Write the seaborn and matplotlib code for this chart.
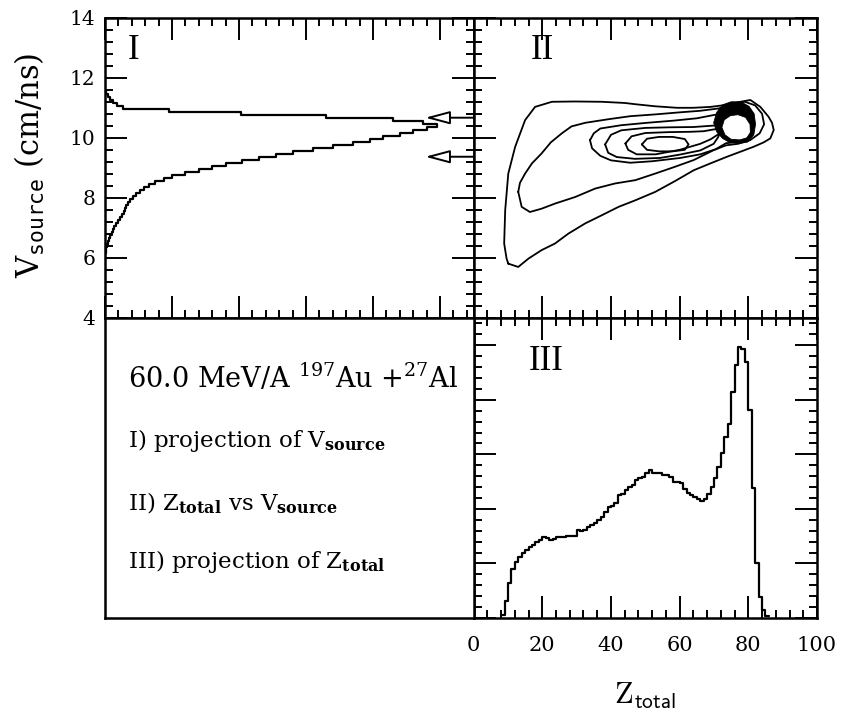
import numpy as np
import pandas as pd
import matplotlib
matplotlib.use("Agg")
import matplotlib.pyplot as plt
from matplotlib.path import Path
from matplotlib.patches import PathPatch
from matplotlib.ticker import MultipleLocator, NullFormatter
import seaborn as sns

# ---------------- data ----------------
# I) projection of V_source: bin centres (cm/ns) and counts (arb. units)
v_centers = [6.0, 6.1, 6.2, 6.3, 6.4, 6.5, 6.6, 6.7, 6.8, 6.9,
             7.0, 7.1, 7.2, 7.3, 7.4, 7.5, 7.6, 7.7, 7.8, 7.9,
             8.0, 8.1, 8.2, 8.3, 8.4, 8.5, 8.6, 8.7, 8.8, 8.9,
             9.0, 9.1, 9.2, 9.3, 9.4, 9.5, 9.6, 9.7, 9.8, 9.9,
             10.0, 10.1, 10.2, 10.3, 10.4, 10.5, 10.6, 10.7, 10.8, 10.9,
             11.0, 11.1, 11.2, 11.3, 11.4, 11.5]
v_counts = [0.0, 0.0, 0.01, 0.02, 0.035, 0.05, 0.06, 0.08, 0.10, 0.12,
            0.14, 0.17, 0.20, 0.23, 0.25, 0.28, 0.30, 0.32, 0.35, 0.38,
            0.42, 0.46, 0.52, 0.58, 0.66, 0.75, 0.88, 1.00, 1.20, 1.40,
            1.60, 1.80, 2.05, 2.30, 2.55, 2.80, 3.10, 3.40, 3.70, 3.95,
            4.15, 4.40, 4.60, 4.80, 4.95, 4.75, 4.30, 3.30, 2.03, 0.96,
            0.27, 0.18, 0.12, 0.08, 0.05, 0.02]
v_bin_width = 0.1

# markers on the V_source projection (cm/ns)
arrow_v = [10.67, 9.37]
arrow_tip = 4.78

# III) projection of Z_total: bin centres and counts (arb. units)
z_centers = [8.5, 9.5, 10.5, 11.5, 12.5, 13.5, 14.5, 15.5, 16.5, 17.5,
             18.5, 19.5, 20.5, 21.5, 22.5, 23.5, 24.5, 25.5, 26.5, 27.5,
             28.5, 29.5, 30.5, 31.5, 32.5, 33.5, 34.5, 35.5, 36.5, 37.5,
             38.5, 39.5, 40.5, 41.5, 42.5, 43.5, 44.5, 45.5, 46.5, 47.5,
             48.5, 49.5, 50.5, 51.5, 52.5, 53.5, 54.5, 55.5, 56.5, 57.5,
             58.5, 59.5, 60.5, 61.5, 62.5, 63.5, 64.5, 65.5, 66.5, 67.5,
             68.5, 69.5, 70.5, 71.5, 72.5, 73.5, 74.5, 75.5, 76.5, 77.5,
             78.5, 79.5, 80.5, 81.5, 82.5, 83.5, 84.5, 85.5]
z_counts = [0.05, 0.32, 0.65, 0.89, 1.03, 1.12, 1.20, 1.25, 1.30, 1.34,
            1.40, 1.43, 1.48, 1.46, 1.43, 1.45, 1.48, 1.48, 1.49, 1.50,
            1.50, 1.50, 1.61, 1.59, 1.62, 1.67, 1.70, 1.75, 1.79, 1.86,
            1.94, 2.04, 2.05, 2.10, 2.25, 2.28, 2.34, 2.40, 2.44, 2.53,
            2.56, 2.59, 2.65, 2.72, 2.66, 2.66, 2.66, 2.62, 2.62, 2.59,
            2.50, 2.50, 2.47, 2.36, 2.30, 2.25, 2.22, 2.18, 2.15, 2.19,
            2.28, 2.40, 2.56, 2.77, 3.02, 3.32, 3.55, 4.14, 4.63, 4.97,
            4.94, 4.69, 3.81, 2.38, 1.00, 0.39, 0.15, 0.03]
z_bin_width = 1.0

# II) Z_total vs V_source: iso-count contour lines (Z, V)
c1_z = [10.1, 13.0, 16.0, 19.8, 23.7, 27.6, 32.5, 37.3, 42.2, 47.1,
        52.9, 58.5, 64.1, 69.0, 73.8, 78.0, 81.5, 84.5, 86.4, 87.4,
        86.9, 85.9, 83.5, 80.6, 77.7, 73.8, 69.0, 64.0, 59.2, 52.9,
        47.0, 44.1, 37.3, 29.6, 22.8, 17.9, 15.0, 12.1, 10.1, 9.2,
        8.9, 9.6, 10.1]
c1_v = [5.81, 5.70, 5.98, 6.26, 6.48, 6.81, 7.15, 7.42, 7.70, 7.92,
        8.20, 8.55, 8.92, 9.15, 9.37, 9.55, 9.70, 9.85, 9.98, 10.26,
        10.50, 10.70, 11.03, 11.26, 11.20, 11.10, 11.03, 11.00, 11.00, 11.05,
        11.12, 11.16, 11.20, 11.21, 11.20, 11.03, 10.59, 9.70, 8.81, 7.59,
        6.48, 5.98, 5.81]

c2_z = [13.0, 14.0, 16.4, 19.8, 23.7, 29.6, 35.4, 41.2, 47.1, 52.9,
        58.5, 64.1, 69.9, 73.5, 77.0, 80.5, 83.3, 84.6, 84.0, 82.0,
        79.0, 75.5, 71.5, 66.0, 60.2, 52.9, 45.6, 39.3, 32.5, 28.5,
        25.7, 22.5, 19.8, 17.0, 15.0, 13.5, 13.0]
c2_v = [8.20, 7.70, 7.53, 7.64, 7.81, 8.03, 8.31, 8.48, 8.59, 8.81,
        9.03, 9.26, 9.59, 9.75, 9.80, 9.92, 10.15, 10.45, 10.80, 11.08,
        11.20, 11.15, 10.98, 10.90, 10.85, 10.78, 10.72, 10.62, 10.50, 10.38,
        10.15, 9.85, 9.48, 9.15, 8.81, 8.50, 8.20]

c3_z = [33.9, 35.0, 36.9, 43.0, 50.5, 58.0, 65.0, 71.8, 74.5, 77.5,
        80.3, 81.3, 80.8, 78.5, 76.0, 73.5, 70.5, 66.0, 60.2, 52.0,
        45.6, 40.0, 36.9, 34.5, 33.9]
c3_v = [9.92, 10.15, 10.31, 10.42, 10.50, 10.57, 10.65, 10.80, 10.97, 11.02,
        10.90, 10.45, 10.08, 9.88, 9.85, 9.82, 9.62, 9.45, 9.33, 9.22,
        9.17, 9.25, 9.40, 9.65, 9.92]

c4_z = [38.3, 40.0, 43.0, 50.0, 57.0, 64.1, 69.0, 71.8, 71.9, 71.2,
        69.9, 66.0, 60.0, 54.3, 47.0, 41.7, 39.2, 38.3]
c4_v = [9.78, 10.10, 10.25, 10.33, 10.35, 10.36, 10.40, 10.42, 10.20, 10.02,
        9.80, 9.58, 9.44, 9.33, 9.30, 9.36, 9.50, 9.78]

c5_z = [44.2, 46.0, 50.0, 57.0, 63.0, 67.0, 70.0, 71.6, 71.3, 69.0,
        66.0, 60.0, 53.0, 47.5, 45.0, 44.2]
c5_v = [9.81, 10.05, 10.16, 10.19, 10.20, 10.22, 10.28, 10.30, 10.12, 9.95,
        9.80, 9.60, 9.45, 9.45, 9.60, 9.81]

c6_z = [49.0, 50.5, 54.0, 58.0, 61.5, 62.6, 61.5, 58.0, 54.0, 50.5, 49.0]
c6_v = [9.78, 9.97, 10.03, 10.03, 9.96, 9.78, 9.60, 9.55, 9.55, 9.60, 9.78]

# densely packed contours around the projectile-like peak
ring_out_z = [69.9, 70.8, 72.5, 75.0, 77.8, 80.2, 81.7, 82.1, 81.6, 79.8,
              77.0, 74.5, 72.5, 70.8, 69.9]
ring_out_v = [10.50, 10.85, 11.10, 11.20, 11.20, 11.05, 10.80, 10.45, 10.10, 9.86,
              9.81, 9.85, 9.98, 10.20, 10.50]
ring_in_z = [72.3, 73.0, 74.8, 77.0, 79.2, 80.5, 80.6, 79.6, 77.5, 75.0, 73.2, 72.3]
ring_in_v = [10.35, 10.60, 10.74, 10.77, 10.68, 10.45, 10.18, 10.00, 9.93, 9.95, 10.10, 10.35]

v_ticks = [4, 6, 8, 10, 12, 14]
z_ticks = [0, 20, 40, 60, 80, 100]

# ---------------- figure ----------------
sns.set_theme(style="ticks")
ink = "black"
plt.rcParams.update({
    "font.family": ["DejaVu Serif"],
    "mathtext.fontset": "dejavuserif",
    "text.color": ink,
    "axes.labelcolor": ink,
    "xtick.color": ink,
    "ytick.color": ink,
})

fig = plt.figure(figsize=(8.45, 7.13), dpi=100)
W, H = 845.0, 713.0
xl, xm, xr = 105 / W, 473.6 / W, 817 / W
yt, ym, yb = 1 - 17.7 / H, 1 - 318 / H, 1 - 618 / H
ax1 = fig.add_axes([xl, ym, xm - xl, yt - ym])
ax2 = fig.add_axes([xm, ym, xr - xm, yt - ym])
ax3 = fig.add_axes([xm, yb, xr - xm, ym - yb])
ax4 = fig.add_axes([xl, yb, xm - xl, ym - yb])

# Panel I: V_source projection drawn sideways
v_df = pd.DataFrame({"v": v_centers, "n": v_counts})
v_edges = [round(c - v_bin_width / 2, 3) for c in v_centers] + [round(v_centers[-1] + v_bin_width / 2, 3)]
sns.histplot(data=v_df, y="v", weights="n", bins=v_edges, element="step",
             fill=False, color=ink, linewidth=1.6, ax=ax1)
for v in arrow_v:
    ax1.annotate("", xy=(arrow_tip, v), xytext=(5.5, v),
                 arrowprops=dict(arrowstyle="-|>,head_length=0.75,head_width=0.2",
                                 mutation_scale=20, fc="white", ec=ink, lw=1.4,
                                 shrinkA=0, shrinkB=0), annotation_clip=False)
ax1.set_xlim(0, 5.5)
ax1.set_ylim(4, 14)
ax1.text(0.42, 12.9, "I", family="Liberation Serif", fontsize=25, ha="center", va="center")

# Panel II: contour lines of the 2D distribution
for cz, cv in [(c1_z, c1_v), (c2_z, c2_v), (c3_z, c3_v), (c4_z, c4_v), (c5_z, c5_v), (c6_z, c6_v)]:
    ax2.plot(cz, cv, color=ink, lw=1.3, solid_joinstyle="round")
outer = np.column_stack([ring_out_z, ring_out_v])
inner = np.column_stack([ring_in_z, ring_in_v])[::-1]
ring_path = Path.make_compound_path(Path(outer, closed=True), Path(inner, closed=True))
ax2.add_patch(PathPatch(ring_path, facecolor=ink, edgecolor=ink, lw=0.6))
ax2.set_xlim(0, 100)
ax2.set_ylim(4, 14)
ax2.text(19.9, 12.9, "II", family="Liberation Serif", fontsize=25, ha="center", va="center")

# Panel III: Z_total projection
z_df = pd.DataFrame({"z": z_centers, "n": z_counts})
z_edges = [c - z_bin_width / 2 for c in z_centers] + [z_centers[-1] + z_bin_width / 2]
sns.histplot(data=z_df, x="z", weights="n", bins=z_edges, element="step",
             fill=False, color=ink, linewidth=1.6, ax=ax3)
ax3.set_xlim(0, 100)
ax3.set_ylim(0, 5.5)
ax3.text(21, 4.7, "III", family="Liberation Serif", fontsize=25, ha="center", va="center")

# axis decoration
for ax in (ax1, ax2, ax3):
    ax.set_xlabel("")
    ax.set_ylabel("")
    ax.tick_params(which="both", direction="in", top=True, right=True,
                   bottom=True, left=True, color=ink, width=1.4)
    ax.tick_params(which="major", length=16)
    ax.tick_params(which="minor", length=6)
for ax in (ax1, ax2, ax3, ax4):
    for sp in ax.spines.values():
        sp.set_visible(True)
        sp.set_linewidth(1.8)
        sp.set_color(ink)
    ax.set_facecolor("white")

ax1.xaxis.set_major_locator(MultipleLocator(1))
ax1.xaxis.set_minor_locator(MultipleLocator(0.2))
ax1.set_yticks(v_ticks)
ax1.yaxis.set_minor_locator(MultipleLocator(0.4))
ax1.xaxis.set_major_formatter(NullFormatter())
ax1.set_yticklabels([str(t) for t in v_ticks], fontsize=14.5)
ax1.tick_params(axis="y", which="major", pad=7)

ax2.set_xticks(z_ticks)
ax2.xaxis.set_minor_locator(MultipleLocator(4))
ax2.set_yticks(v_ticks)
ax2.yaxis.set_minor_locator(MultipleLocator(0.4))
ax2.xaxis.set_major_formatter(NullFormatter())
ax2.yaxis.set_major_formatter(NullFormatter())

ax3.set_xticks(z_ticks)
ax3.xaxis.set_minor_locator(MultipleLocator(4))
ax3.yaxis.set_major_locator(MultipleLocator(1))
ax3.yaxis.set_minor_locator(MultipleLocator(0.2))
ax3.yaxis.set_major_formatter(NullFormatter())
ax3.set_xticklabels([str(t) for t in z_ticks], fontsize=15)
ax3.tick_params(axis="x", which="major", pad=13)
ax3.set_xlabel(r"$\mathrm{Z}_{\mathsf{total}}$", math_fontfamily="cm", fontsize=22, labelpad=18)

ax4.set_xticks([])
ax4.set_yticks([])
ax4.set_xlim(0, 1)
ax4.set_ylim(0, 1)
ax4.text(0.062, 0.767, r"60.0 MeV/A $^{197}$Au $+^{27}$Al", fontsize=19.5, va="baseline")
ax4.text(0.062, 0.570, r"I) projection of V$_{\mathbf{source}}$", fontsize=16.5, va="baseline")
ax4.text(0.062, 0.360, r"II) Z$_{\mathbf{total}}$ vs V$_{\mathbf{source}}$", fontsize=16.5, va="baseline")
ax4.text(0.062, 0.167, r"III) projection of Z$_{\mathbf{total}}$", fontsize=16.5, va="baseline")

fig.text(0.036, 0.768, r"V$_{\mathtt{source}}$ (cm/ns)", rotation=90, fontsize=22,
         ha="center", va="center")

fig.savefig("out.png", dpi=100, facecolor="white")
